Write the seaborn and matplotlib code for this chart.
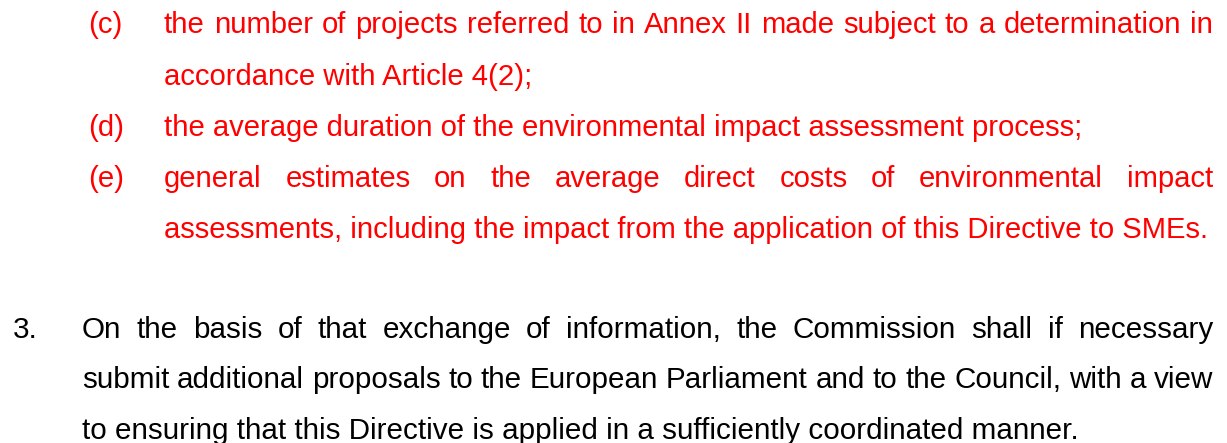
import matplotlib
matplotlib.use("Agg")
import matplotlib.pyplot as plt
import seaborn as sns

sns.set_style("white")
plt.rcParams['font.family'] = ['Liberation Sans', 'DejaVu Sans']

# paragraph labels, lines of text, and colour for each block
labels = ["(c)", "(d)", "(e)", "3."]
paragraphs = [
    ["the number of projects referred to in Annex II made subject to a determination in",
     "accordance with Article 4(2);"],
    ["the average duration of the environmental impact assessment process;"],
    ["general estimates on the average direct costs of environmental impact",
     "assessments, including the impact from the application of this Directive to SMEs."],
    ["On the basis of that exchange of information, the Commission shall if necessary",
     "submit additional proposals to the European Parliament and to the Council, with a view",
     "to ensuring that this Directive is applied in a sufficiently coordinated manner."],
]
colors = ["#ff0000", "#ff0000", "#ff0000", "#000000"]

# layout in pixels
label_x = [88, 88, 88, 13]
text_x = [164, 164, 164, 82]
first_baseline = [33, 136, 187, 338]
line_gap = [51.5, 51.5, 51, 50.5]
right_edge = 1213
fontsizes = [21.1, 21.1, 21.1, 21.3]

fig, ax = plt.subplots(figsize=(12.27, 4.43), dpi=100)
ax.set_position([0, 0, 1, 1])
ax.set_xlim(0, 1227)
ax.set_ylim(443, 0)
ax.axis("off")
renderer = fig.canvas.get_renderer()


def put_line(text, x, y, color, fs, justify):
    if not justify:
        ax.text(x, y, text, color=color, fontsize=fs, va="baseline", ha="left")
        return
    words = text.split(" ")
    objs = [ax.text(x, y, w, color=color, fontsize=fs, va="baseline", ha="left")
            for w in words]
    inv = ax.transData.inverted()
    widths = []
    for t in objs:
        bb = t.get_window_extent(renderer)
        x0 = inv.transform((bb.x0, 0))[0]
        x1 = inv.transform((bb.x1, 0))[0]
        widths.append(x1 - x0)
    gap = (right_edge - x - sum(widths)) / (len(words) - 1)
    cur = x
    for t, w in zip(objs, widths):
        t.set_x(cur)
        cur += w + gap


for lab, lines, col, lx, tx, y0, dy, fs in zip(labels, paragraphs, colors, label_x,
                                               text_x, first_baseline, line_gap, fontsizes):
    ax.text(lx, y0, lab, color=col, fontsize=fs, va="baseline", ha="left")
    for i, line in enumerate(lines):
        put_line(line, tx, y0 + i * dy, col, fs, i < len(lines) - 1)

fig.savefig("out.png", dpi=100)
